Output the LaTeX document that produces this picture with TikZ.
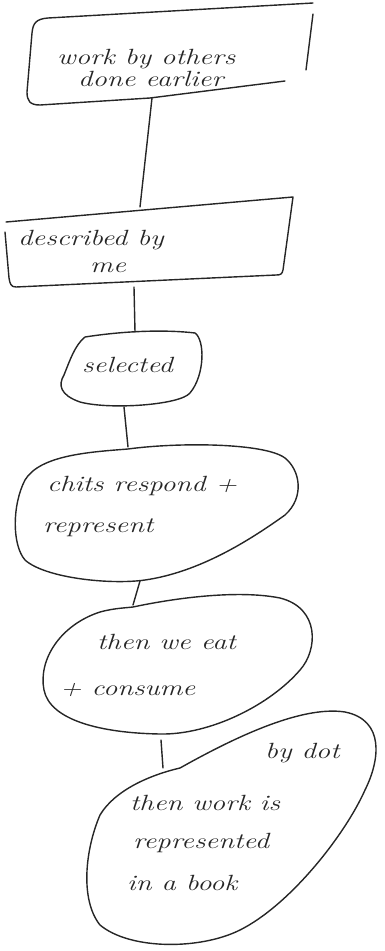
\documentclass[tikz,border=0pt]{standalone}
\usepackage{fontspec}
\begin{document}
\begin{tikzpicture}[x=1pt,y=-1pt,
  pen/.style={line width=1.4pt,draw=black!85,line cap=round,line join=round},
  hand/.style={inner sep=0pt,anchor=west,font=\fontsize{22}{26}\selectfont\itshape,text=black!85}]
\useasboundingbox (0,0) rectangle (385,951);
\newcommand{\hw}[1]{\scalebox{1.3}[1]{#1}}
% ---------- box 1
\draw[pen] (313,3) -- (48,18) .. controls (36,19) and (33,23) .. (32,33) -- (27,92) .. controls (27,101) and (30,105) .. (40,105) -- (150,98) -- (285,81);
\draw[pen] (313,14) -- (306,70);
\node[hand] (t1a) at (57,59) {\hw{work by others}};
\node[hand] (t1b) at (78,79) {\hw{done earlier}};
\coordinate (b1s) at (152,98);
% ---------- box 2
\draw[pen] (6,222) -- (293,197) -- (283,270) .. controls (282,274) and (281,275) .. (276,275) -- (16,287) .. controls (11,287) and (10,284) .. (9,278) -- (5,232);
\node[hand] (t2a) at (18,240) {\hw{described by}};
\node[hand] (t2b) at (90,268) {\hw{me}};
\coordinate (b2n) at (140,207);
\coordinate (b2s) at (134,287);
% ---------- box 3
\draw[pen] (85,337) .. controls (130,330) and (170,330) .. (195,333) .. controls (205,340) and (205,375) .. (190,393) .. controls (180,405) and (110,410) .. (80,402) .. controls (60,395) and (58,385) .. (64,375) .. controls (70,360) and (75,345) .. (85,337) -- cycle;
\node[hand] (t3) at (82,365) {\hw{selected}};
\coordinate (b3n) at (135,332);
\coordinate (b3s) at (124,407);
% ---------- box 4
\draw[pen] (128,449) .. controls (90,452) and (40,455) .. (25,480) .. controls (12,505) and (12,545) .. (25,560) .. controls (45,578) and (110,585) .. (145,580) .. controls (200,572) and (250,540) .. (285,515) .. controls (305,497) and (300,470) .. (285,458) .. controls (265,443) and (180,442) .. (128,449) -- cycle;
\node[hand] (t4a) at (47,486) {\hw{chits respond +}};
\node[hand] (t4b) at (43,528) {\hw{represent}};
\coordinate (b4n) at (128,447);
\coordinate (b4s) at (140,581);
% ---------- box 5
\draw[pen] (133,607) .. controls (180,597) and (240,590) .. (280,598) .. controls (320,608) and (318,650) .. (300,670) .. controls (270,705) and (210,735) .. (160,734) .. controls (100,733) and (50,720) .. (44,690) .. controls (38,660) and (60,625) .. (100,612) .. controls (115,608) and (125,608) .. (133,607) -- cycle;
\node[hand] (t5a) at (97,642) {\hw{then we eat}};
\node[hand] (t5b) at (60,690) {\hw{+ consume}};
\coordinate (b5n) at (133,605);
\coordinate (b5s) at (161,740);
% ---------- box 6
\draw[pen] (180,768) .. controls (230,740) and (300,705) .. (345,712) .. controls (385,720) and (380,760) .. (365,790) .. controls (345,835) and (290,905) .. (240,930) .. controls (200,950) and (130,950) .. (100,925) .. controls (80,900) and (85,850) .. (100,815) .. controls (115,790) and (150,775) .. (180,768) -- cycle;
\node[hand] (t6x) at (265,753) {\hw{by dot}};
\node[hand] (t6a) at (130,803) {\hw{then work is}};
\node[hand] (t6b) at (133,843) {\hw{represented}};
\node[hand] (t6c) at (127,883) {\hw{in a book}};
\coordinate (b6n) at (163,768);
% ---------- connectors
\draw[pen] (b1s) -- (b2n);
\draw[pen] (b2s) -- (b3n);
\draw[pen] (b3s) -- (b4n);
\draw[pen] (b4s) -- (b5n);
\draw[pen] (b5s) -- (b6n);
\end{tikzpicture}
\end{document}
